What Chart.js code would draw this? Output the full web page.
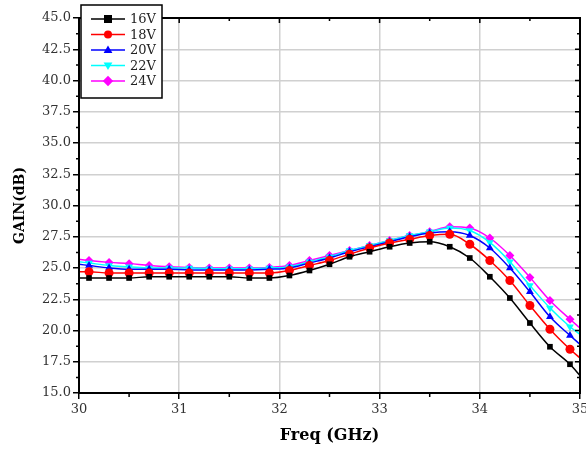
<!DOCTYPE html>
<html>
<head>
<meta charset="utf-8">
<script src="https://cdn.jsdelivr.net/npm/chart.js@4.4.1/dist/chart.umd.min.js"></script>
<style>
  html, body { margin: 0; padding: 0; background: #fff; }
</style>
</head>
<body>
<canvas id="gainChart" width="586" height="455"></canvas>
<script>
// frequency points (GHz); end points carry no marker
const freqs = [30.0, 30.1, 30.3, 30.5, 30.7, 30.9, 31.1, 31.3, 31.5, 31.7, 31.9, 32.1, 32.3,
  32.5, 32.7, 32.9, 33.1, 33.3, 33.5, 33.7, 33.9, 34.1, 34.3, 34.5, 34.7, 34.9, 35.0];

// gain (dB) per bias voltage
const gain16V = [24.2, 24.2, 24.2, 24.2, 24.3, 24.3, 24.3, 24.3, 24.3, 24.2, 24.2, 24.4, 24.8,
  25.3, 25.9, 26.3, 26.7, 27.0, 27.1, 26.7, 25.8, 24.3, 22.6, 20.6, 18.7, 17.3, 16.4];
const gain18V = [24.7, 24.7, 24.6, 24.6, 24.6, 24.6, 24.6, 24.6, 24.6, 24.6, 24.6, 24.8, 25.2,
  25.6, 26.1, 26.6, 27.0, 27.3, 27.6, 27.7, 26.9, 25.6, 24.0, 22.0, 20.1, 18.5, 17.8];
const gain20V = [25.3, 25.2, 25.0, 24.9, 24.9, 24.9, 24.85, 24.85, 24.85, 24.85, 24.9, 25.0, 25.4,
  25.8, 26.3, 26.7, 27.1, 27.5, 27.8, 27.9, 27.6, 26.6, 25.0, 23.1, 21.1, 19.6, 18.9];
const gain22V = [25.5, 25.4, 25.2, 25.1, 25.0, 25.0, 25.0, 24.95, 24.95, 24.95, 25.0, 25.1, 25.5,
  25.9, 26.4, 26.8, 27.2, 27.6, 27.9, 28.2, 28.0, 27.05, 25.5, 23.6, 21.8, 20.3, 19.7];
const gain24V = [25.7, 25.6, 25.45, 25.35, 25.2, 25.1, 25.05, 25.0, 25.0, 25.0, 25.05, 25.2, 25.6,
  26.0, 26.4, 26.8, 27.2, 27.6, 27.9, 28.3, 28.2, 27.4, 26.0, 24.25, 22.4, 20.9, 20.2];

const seriesLabels = ['16V', '18V', '20V', '22V', '24V'];
const seriesColors = ['#000000', '#ff0000', '#0000ff', '#00ffff', '#ff00ff'];
const seriesStyles = ['rect', 'circle', 'triangle', 'triangle', 'rectRot'];
const seriesRotation = [0, 0, 0, 180, 0];
const seriesValues = [gain16V, gain18V, gain20V, gain22V, gain24V];

const serif = 'DejaVu Serif';

function markerRadii(r) {
  return freqs.map((f, i) => (i === 0 || i === freqs.length - 1 ? 0 : r));
}

const datasets = seriesLabels.map((label, k) => ({
  label: label,
  data: freqs.map((f, i) => ({ x: f, y: seriesValues[k][i] })),
  borderColor: seriesColors[k],
  backgroundColor: seriesColors[k],
  borderWidth: 1.5,
  pointStyle: seriesStyles[k],
  rotation: seriesRotation[k],
  pointRadius: markerRadii(k === 0 ? 4 : 4.5),
  pointBorderWidth: 0,
  cubicInterpolationMode: 'monotone',
}));

// draw one legend marker by hand
function drawMarker(ctx, style, rot, x, y, r) {
  ctx.save();
  ctx.translate(x, y);
  ctx.rotate((rot * Math.PI) / 180);
  ctx.beginPath();
  if (style === 'rect') {
    ctx.rect(-r, -r, 2 * r, 2 * r);
  } else if (style === 'circle') {
    ctx.arc(0, 0, r, 0, Math.PI * 2);
  } else if (style === 'triangle') {
    ctx.moveTo(0, -r * 1.15);
    ctx.lineTo(r * 1.1, r * 0.75);
    ctx.lineTo(-r * 1.1, r * 0.75);
    ctx.closePath();
  } else {
    ctx.moveTo(0, -r * 1.3);
    ctx.lineTo(r * 1.3, 0);
    ctx.lineTo(0, r * 1.3);
    ctx.lineTo(-r * 1.3, 0);
    ctx.closePath();
  }
  ctx.fill();
  ctx.restore();
}

// frame, minor ticks and the boxed legend
const framePlugin = {
  id: 'frame',
  afterDraw(chart) {
    const ctx = chart.ctx;
    const a = chart.chartArea;
    const xs = chart.scales.x;
    const ys = chart.scales.y;
    ctx.save();
    ctx.strokeStyle = '#000';
    ctx.lineWidth = 1.5;
    ctx.beginPath();
    // y minor ticks (left, outward) and right side ticks (inward)
    for (let v = 15; v <= 45.001; v += 1.25) {
      const py = ys.getPixelForValue(v);
      const major = Math.abs(v / 2.5 - Math.round(v / 2.5)) < 0.01;
      if (!major) {
        ctx.moveTo(a.left - 3, py);
        ctx.lineTo(a.left, py);
      }
      ctx.moveTo(a.right, py);
      ctx.lineTo(a.right - (major ? 5 : 3), py);
    }
    // x minor ticks (bottom, outward) and top ticks (inward)
    for (let f = 30; f <= 35.001; f += 0.5) {
      const px = xs.getPixelForValue(f);
      const major = Math.abs(f - Math.round(f)) < 0.01;
      if (!major) {
        ctx.moveTo(px, a.bottom);
        ctx.lineTo(px, a.bottom + 4);
      }
      ctx.moveTo(px, a.top);
      ctx.lineTo(px, a.top + (major ? 5 : 3));
    }
    ctx.stroke();
    ctx.lineWidth = 2;
    ctx.strokeRect(a.left, a.top, a.right - a.left, a.bottom - a.top);

    // legend box
    const bx = a.left + 2;
    const by = 5;
    const bw = 81;
    const bh = 93;
    ctx.fillStyle = '#fff';
    ctx.fillRect(bx, by, bw, bh);
    ctx.lineWidth = 1.5;
    ctx.strokeRect(bx, by, bw, bh);
    ctx.font = '13px "' + serif + '"';
    ctx.textBaseline = 'middle';
    chart.data.datasets.forEach((ds, k) => {
      const ly = by + 14 + k * 15.5;
      ctx.strokeStyle = ds.borderColor;
      ctx.lineWidth = 1.5;
      ctx.beginPath();
      ctx.moveTo(bx + 10, ly);
      ctx.lineTo(bx + 44, ly);
      ctx.stroke();
      ctx.fillStyle = ds.backgroundColor;
      drawMarker(ctx, seriesStyles[k], seriesRotation[k], bx + 27, ly, 4);
      ctx.fillStyle = '#222';
      ctx.fillText(ds.label, bx + 49, ly + 1);
    });
    ctx.restore();
  },
};

const ctx = document.getElementById('gainChart');
const gainChart = new Chart(ctx, {
  type: 'line',
  data: { datasets: datasets },
  options: {
    responsive: false,
    animation: false,
    devicePixelRatio: 1,
    layout: { padding: { left: 0, top: 18, right: 6, bottom: 0 } },
    plugins: {
      legend: { display: false },
      tooltip: { enabled: false },
    },
    scales: {
      x: {
        type: 'linear',
        min: 30,
        max: 35,
        ticks: {
          stepSize: 1,
          color: '#333',
          font: { family: serif, size: 13 },
          padding: 3,
        },
        grid: { color: '#d0d0d0', lineWidth: 1.5, tickColor: '#000', tickLength: 6, tickWidth: 1.5 },
        border: { color: '#000', width: 2 },
        title: {
          display: true,
          text: 'Freq (GHz)',
          color: '#000',
          font: { family: serif, size: 16, weight: 'bold' },
          padding: { top: 10, bottom: 10 },
        },
        afterFit(scale) {
          scale.height = 62;
          scale.paddingLeft = 0;
          scale.paddingRight = 0;
        },
      },
      y: {
        min: 15,
        max: 45,
        ticks: {
          stepSize: 2.5,
          color: '#333',
          font: { family: serif, size: 13 },
          padding: 2,
          callback: (v) => v.toFixed(1),
        },
        grid: { color: '#d0d0d0', lineWidth: 1.5, tickColor: '#000', tickLength: 6, tickWidth: 1.5 },
        border: { color: '#000', width: 2 },
        title: {
          display: true,
          text: 'GAIN(dB)',
          color: '#000',
          font: { family: serif, size: 14, weight: 'bold' },
          padding: { top: 12, bottom: 0 },
        },
        afterFit(scale) {
          scale.width = 79;
          scale.paddingTop = 0;
          scale.paddingBottom = 0;
        },
      },
    },
  },
  plugins: [framePlugin],
});
</script>
</body>
</html>
